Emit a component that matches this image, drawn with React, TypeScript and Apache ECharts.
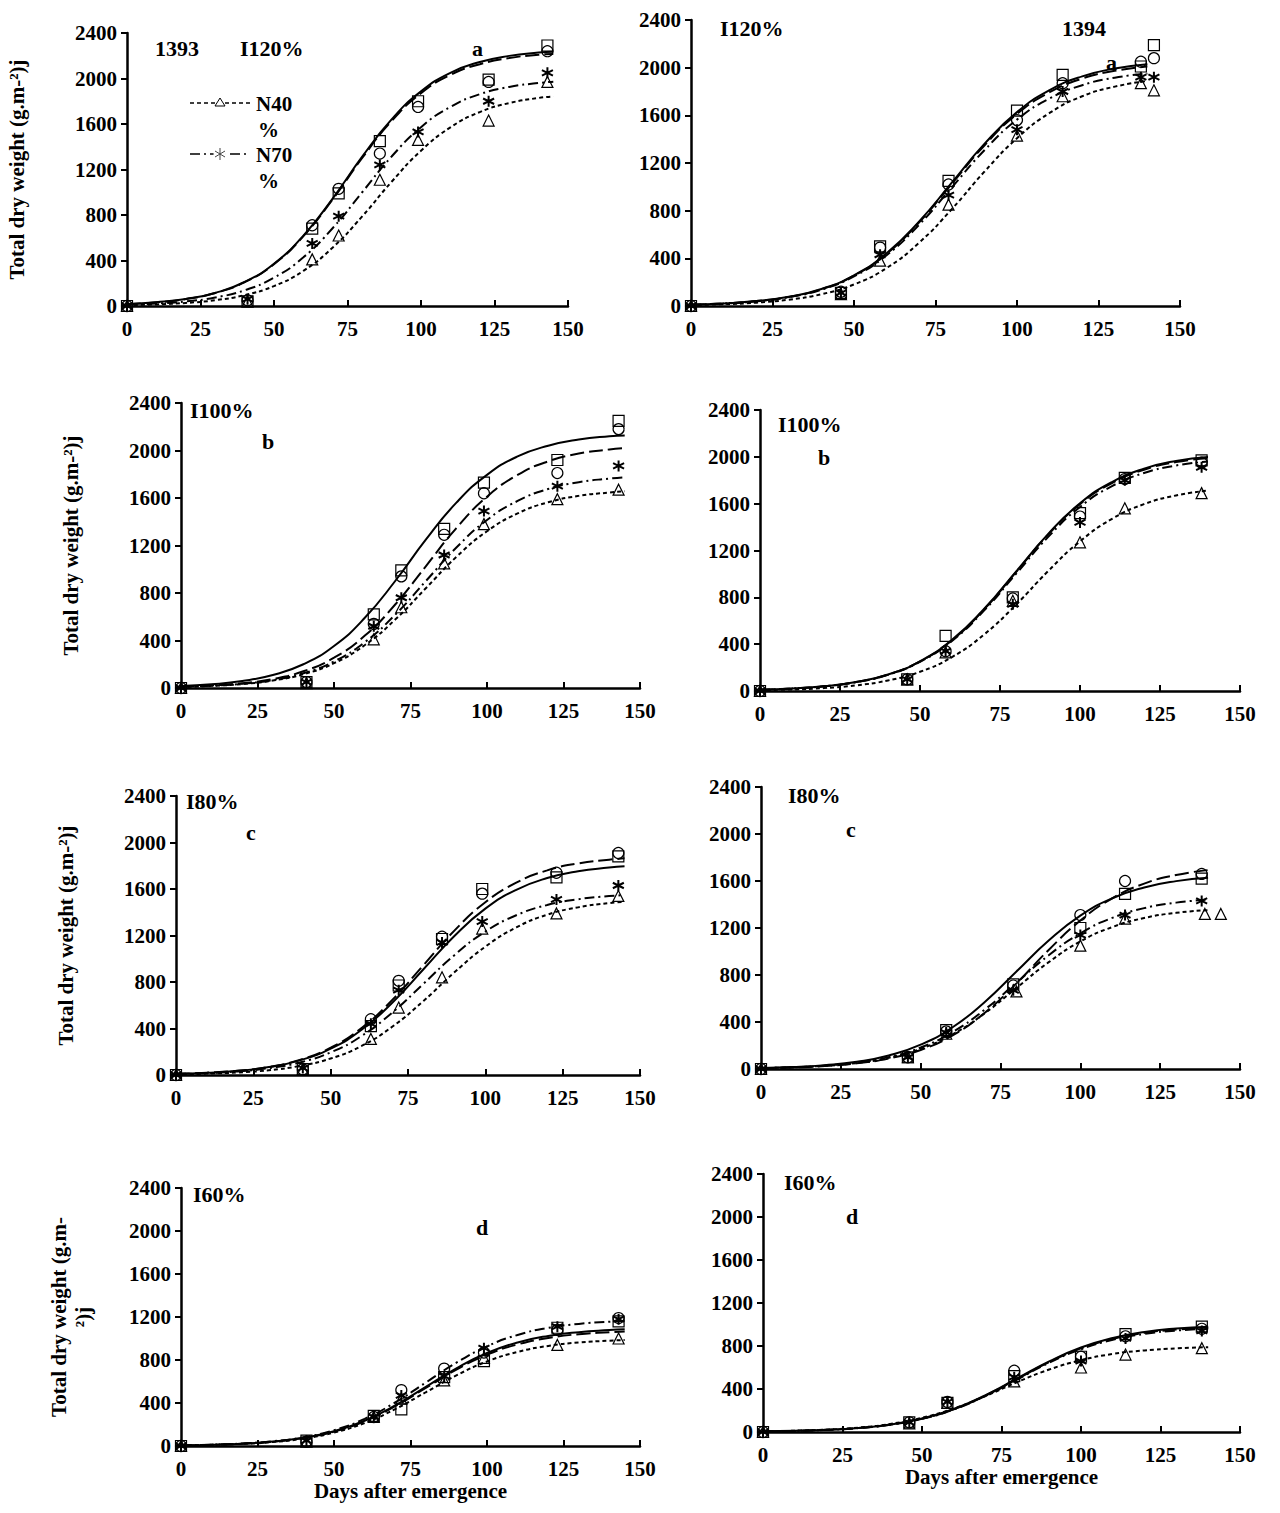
import { useEffect, useRef } from "react";
import * as echarts from "echarts";

// x positions for fitted curves
const curveDaysL = [0, 10, 20, 30, 40, 50, 60, 70, 80, 90, 100, 110, 120, 130, 140, 145];
const curveDaysR = [0, 10, 20, 30, 40, 50, 60, 70, 80, 90, 100, 110, 120, 130, 140];

// sampling days of observed points
const obsDaysL = [0, 41, 63, 72, 86, 99, 123, 143];
const obsDaysR = [0, 46, 58, 79, 100, 114, 138, 142];
const obsDaysR7 = [0, 46, 58, 79, 100, 114, 138];

// panel a (I120%) 1393
const aL_tri = [0, 40, 410, 620, 1110, 1460, 1630, 1970];
const aL_ast = [0, 60, 550, 790, 1240, 1530, 1800, 2050];
const aL_cir = [0, 50, 710, 1030, 1340, 1750, 1970, 2240];
const aL_sq = [0, 40, 680, 990, 1450, 1800, 1990, 2290];
const aL_c40 = [8, 14, 27, 51, 96, 175, 309, 515, 788, 1092, 1365, 1570, 1705, 1784, 1829, 1842];
const aL_c70 = [11, 21, 40, 75, 138, 249, 428, 686, 1000, 1314, 1572, 1750, 1862, 1926, 1960, 1972];
const aL_c100 = [17, 32, 61, 114, 209, 368, 614, 939, 1301, 1626, 1870, 2032, 2126, 2180, 2209, 2216];
const aL_c130 = [17, 33, 62, 115, 211, 372, 619, 947, 1313, 1641, 1887, 2050, 2145, 2199, 2228, 2236];

// panel a (I120%) 1394
const aR_tri = [0, 100, 380, 850, 1430, 1760, 1870, 1810];
const aR_ast = [0, 110, 430, 930, 1480, 1800, 1920, 1920];
const aR_cir = [0, 120, 490, 1020, 1560, 1870, 2050, 2080];
const aR_sq = [0, 110, 500, 1050, 1640, 1940, 2010, 2190];
const aR_c40 = [8, 15, 28, 53, 99, 181, 319, 532, 813, 1127, 1408, 1620, 1760, 1841, 1888];
const aR_c70 = [11, 21, 39, 74, 137, 248, 426, 683, 995, 1307, 1564, 1741, 1853, 1916, 1950];
const aR_c100 = [11, 22, 41, 76, 141, 255, 439, 703, 1025, 1347, 1611, 1794, 1909, 1974, 2009];
const aR_c130 = [11, 22, 41, 77, 143, 258, 443, 710, 1035, 1360, 1627, 1811, 1927, 1993, 2029];

// panel b (I100%) 1393
const bL_tri = [0, 40, 410, 680, 1050, 1380, 1590, 1670];
const bL_ast = [0, 50, 520, 760, 1120, 1490, 1700, 1870];
const bL_cir = [0, 50, 540, 940, 1290, 1640, 1810, 2180];
const bL_sq = [0, 50, 620, 990, 1340, 1730, 1920, 2250];
const bL_c40 = [9, 18, 33, 63, 116, 209, 360, 576, 840, 1104, 1320, 1470, 1564, 1618, 1646, 1656];
const bL_c70 = [10, 19, 36, 67, 124, 224, 385, 617, 900, 1183, 1415, 1575, 1676, 1733, 1764, 1775];
const bL_c100 = [11, 22, 41, 76, 141, 255, 439, 703, 1025, 1347, 1611, 1794, 1909, 1974, 2009, 2021];
const bL_c130 = [16, 31, 59, 110, 200, 354, 589, 901, 1249, 1561, 1795, 1950, 2040, 2092, 2120, 2127];

// panel b (I100%) 1394
const bR_tri = [0, 100, 330, 770, 1270, 1560, 1690];
const bR_ast = [0, 100, 340, 740, 1440, 1800, 1910];
const bR_cir = [0, 100, 340, 790, 1490, 1810, 1950];
const bR_sq = [0, 100, 470, 800, 1520, 1820, 1970];
const bR_c40 = [7, 13, 25, 48, 90, 164, 290, 482, 737, 1023, 1278, 1470, 1596, 1670, 1712];
const bR_c70 = [11, 21, 40, 75, 138, 249, 428, 686, 1000, 1314, 1572, 1750, 1862, 1926, 1960];
const bR_c100 = [11, 21, 40, 76, 140, 253, 434, 696, 1015, 1334, 1596, 1776, 1890, 1955, 1989];
const bR_c130 = [11, 21, 40, 76, 141, 254, 437, 700, 1020, 1340, 1603, 1785, 1899, 1965, 1999];

// panel c (I80%) 1393
const cL_tri = [0, 50, 310, 580, 840, 1260, 1390, 1540];
const cL_ast = [0, 60, 440, 730, 1140, 1320, 1510, 1630];
const cL_cir = [0, 50, 480, 810, 1190, 1560, 1740, 1910];
const cL_sq = [0, 50, 420, 770, 1170, 1600, 1700, 1880];
const cL_c40 = [6, 12, 22, 41, 78, 142, 250, 417, 637, 883, 1104, 1269, 1379, 1442, 1479, 1490];
const cL_c70 = [9, 16, 31, 59, 108, 195, 336, 539, 785, 1031, 1234, 1374, 1462, 1512, 1539, 1548];
const cL_c100 = [10, 20, 37, 70, 130, 235, 404, 648, 945, 1242, 1486, 1654, 1760, 1820, 1852, 1864];
const cL_c130 = [10, 19, 36, 68, 126, 227, 389, 624, 910, 1196, 1431, 1593, 1694, 1753, 1784, 1795];

// panel c (I80%) 1394
const cR_triDays = [0, 46, 58, 80, 100, 114, 139, 144];
const cR_tri = [0, 100, 300, 660, 1050, 1280, 1320, 1320];
const cR_ast = [0, 100, 310, 670, 1140, 1310, 1430];
const cR_cir = [0, 100, 320, 710, 1310, 1600, 1660];
const cR_sq = [0, 100, 330, 720, 1200, 1490, 1620];
const cR_c40 = [8, 14, 27, 51, 95, 172, 295, 473, 690, 907, 1085, 1208, 1285, 1329, 1352, 1361];
const cR_c70 = [8, 15, 29, 55, 101, 183, 315, 504, 735, 966, 1155, 1286, 1369, 1416, 1441];
const cR_c100 = [7, 13, 25, 48, 89, 162, 286, 477, 729, 1011, 1263, 1453, 1578, 1651, 1693, 1705];
const cR_c130 = [9, 17, 33, 62, 115, 207, 355, 569, 830, 1091, 1305, 1453, 1545, 1599, 1627];

// panel d (I60%) 1393
const dL_tri = [0, 40, 270, 440, 610, 820, 940, 1000];
const dL_ast = [0, 50, 270, 470, 650, 910, 1110, 1180];
const dL_cir = [0, 40, 270, 520, 720, 870, 1080, 1190];
const dL_sq = [0, 50, 280, 340, 640, 790, 1100, 1160];
const dL_c40 = [6, 11, 20, 37, 69, 125, 214, 343, 500, 657, 786, 875, 931, 963, 980, 986];
const dL_c70 = [6, 12, 23, 44, 81, 147, 253, 405, 590, 775, 927, 1033, 1099, 1136, 1156, 1164];
const dL_c100 = [6, 11, 21, 40, 75, 134, 231, 370, 540, 710, 849, 945, 1005, 1040, 1058, 1065];
const dL_c130 = [6, 12, 22, 41, 76, 137, 235, 377, 550, 723, 865, 963, 1024, 1059, 1078, 1085];

// panel d (I60%) 1394
const dR_tri = [0, 80, 270, 470, 600, 720, 780];
const dR_ast = [0, 90, 280, 510, 660, 870, 940];
const dR_cir = [0, 90, 280, 570, 700, 890, 960];
const dR_sq = [0, 90, 270, 520, 700, 910, 980];
const dR_c40 = [6, 12, 22, 41, 75, 132, 219, 335, 465, 581, 668, 726, 759, 778, 789];
const dR_c70 = [5, 10, 19, 37, 68, 122, 210, 336, 490, 644, 770, 858, 912, 944, 960];
const dR_c100 = [5, 10, 20, 37, 68, 123, 212, 340, 495, 650, 778, 866, 922, 953, 970];
const dR_c130 = [6, 11, 20, 37, 69, 125, 214, 343, 500, 657, 786, 875, 931, 963, 980];

const FONT = "Liberation Serif";
const ASTERISK = "path://M0,-5L0,5M-4.3,-2.5L4.3,2.5M-4.3,2.5L4.3,-2.5";

type Panel = {
  grid: { left: number; top: number; width: number; height: number };
  obsDays: number[][];
  obs: number[][];
  cDays: number[];
  curves: number[][];
  yName?: string;
  xName?: string;
};

const panels: Panel[] = [
  { grid: { left: 127, top: 33, width: 441, height: 273 }, obsDays: [obsDaysL, obsDaysL, obsDaysL, obsDaysL],
    obs: [aL_tri, aL_ast, aL_cir, aL_sq], cDays: curveDaysL, curves: [aL_c40, aL_c70, aL_c100, aL_c130],
    yName: "Total dry weight (g.m-²)j" },
  { grid: { left: 691, top: 20, width: 489, height: 286 }, obsDays: [obsDaysR, obsDaysR, obsDaysR, obsDaysR],
    obs: [aR_tri, aR_ast, aR_cir, aR_sq], cDays: curveDaysR, curves: [aR_c40, aR_c70, aR_c100, aR_c130] },
  { grid: { left: 181, top: 403, width: 459, height: 285 }, obsDays: [obsDaysL, obsDaysL, obsDaysL, obsDaysL],
    obs: [bL_tri, bL_ast, bL_cir, bL_sq], cDays: curveDaysL, curves: [bL_c40, bL_c70, bL_c100, bL_c130],
    yName: "Total dry weight (g.m-²)j" },
  { grid: { left: 760, top: 410, width: 480, height: 281 }, obsDays: [obsDaysR7, obsDaysR7, obsDaysR7, obsDaysR7],
    obs: [bR_tri, bR_ast, bR_cir, bR_sq], cDays: curveDaysR, curves: [bR_c40, bR_c70, bR_c100, bR_c130] },
  { grid: { left: 176, top: 796, width: 464, height: 279 }, obsDays: [obsDaysL, obsDaysL, obsDaysL, obsDaysL],
    obs: [cL_tri, cL_ast, cL_cir, cL_sq], cDays: curveDaysL, curves: [cL_c40, cL_c70, cL_c100, cL_c130],
    yName: "Total dry weight (g.m-²)j" },
  { grid: { left: 761, top: 787, width: 479, height: 282 },
    obsDays: [cR_triDays, obsDaysR7, obsDaysR7, obsDaysR7],
    obs: [cR_tri, cR_ast, cR_cir, cR_sq], cDays: curveDaysR, curves: [cR_c40, cR_c70, cR_c100, cR_c130] },
  { grid: { left: 181, top: 1188, width: 459, height: 258 }, obsDays: [obsDaysL, obsDaysL, obsDaysL, obsDaysL],
    obs: [dL_tri, dL_ast, dL_cir, dL_sq], cDays: curveDaysL, curves: [dL_c40, dL_c70, dL_c100, dL_c130],
    yName: "Total dry weight (g.m-\n²)j", xName: "Days after emergence" },
  { grid: { left: 763, top: 1174, width: 477, height: 258 }, obsDays: [obsDaysR7, obsDaysR7, obsDaysR7, obsDaysR7],
    obs: [dR_tri, dR_ast, dR_cir, dR_sq], cDays: curveDaysR, curves: [dR_c40, dR_c70, dR_c100, dR_c130],
    xName: "Days after emergence" },
];

const symbols = ["triangle", ASTERISK, "circle", "rect"];
const lineTypes: any[] = [[4, 3], [10, 4, 2, 4], [14, 5], "solid"];

const labels: [string, number, number][] = [
  ["1393", 155, 48], ["I120%", 240, 48], ["a", 472, 48],
  ["I120%", 720, 28], ["1394", 1062, 28], ["a", 1106, 62],
  ["I100%", 190, 410], ["b", 262, 441],
  ["I100%", 778, 424], ["b", 818, 457],
  ["I80%", 186, 801], ["c", 246, 832],
  ["I80%", 788, 795], ["c", 846, 829],
  ["I60%", 193, 1194], ["d", 476, 1227],
  ["I60%", 784, 1182], ["d", 846, 1216],
];

export default function App() {
  const ref = useRef<HTMLDivElement>(null);
  useEffect(() => {
    if (!ref.current) return;
    const chart = echarts.init(ref.current, null, { renderer: "svg" });
    const textStyle = { fontFamily: FONT, fontWeight: "bold" as const, fontSize: 21, color: "#000" };
    const axisLine = { lineStyle: { color: "#000", width: 2.5 } };
    const series: any[] = [];
    panels.forEach((p, i) => {
      p.curves.forEach((c, k) => {
        series.push({
          type: "line", xAxisIndex: i, yAxisIndex: i, smooth: true, symbol: "none",
          data: c.map((v, j) => [p.cDays[j], v]),
          lineStyle: { color: "#000", width: 2, type: lineTypes[k] }, z: 2,
        });
      });
      p.obs.forEach((o, k) => {
        series.push({
          type: "scatter", xAxisIndex: i, yAxisIndex: i, symbol: symbols[k],
          symbolSize: 11,
          data: o.map((v, j) => [p.obsDays[k][j], v]),
          itemStyle: { color: k === 1 ? "#000" : "rgba(255,255,255,0)", borderColor: "#000", borderWidth: k === 1 ? 2 : 1.2, opacity: 1 },
          z: 3,
        });
      });
    });
    const graphic: any[] = labels.map(([t, x, y]) => ({
      type: "text", left: x, top: y - 11, style: { text: t, font: `bold 22px '${FONT}'`, fill: "#000" },
    }));
    graphic.push(
      { type: "line", shape: { x1: 190, y1: 103, x2: 250, y2: 103 }, style: { stroke: "#000", lineWidth: 1.5, lineDash: [4, 3] } },
      { type: "polygon", shape: { points: [[220, 98], [215, 106], [225, 106]] }, style: { fill: "#fff", stroke: "#000", lineWidth: 1 } },
      { type: "text", left: 256, top: 93, style: { text: "N40", font: `bold 21px '${FONT}'`, fill: "#000" } },
      { type: "text", left: 258, top: 119, style: { text: "%", font: `bold 21px '${FONT}'`, fill: "#000" } },
      { type: "line", shape: { x1: 190, y1: 154, x2: 250, y2: 154 }, style: { stroke: "#000", lineWidth: 1.5, lineDash: [10, 4, 2, 4] } },
      { type: "circle", shape: { cx: 220, cy: 154, r: 6 }, style: { fill: "#fff", stroke: "#fff" } },
      { type: "line", shape: { x1: 220, y1: 148, x2: 220, y2: 160 }, style: { stroke: "#444", lineWidth: 1 } },
      { type: "line", shape: { x1: 215, y1: 151, x2: 225, y2: 157 }, style: { stroke: "#444", lineWidth: 1 } },
      { type: "line", shape: { x1: 215, y1: 157, x2: 225, y2: 151 }, style: { stroke: "#444", lineWidth: 1 } },
      { type: "text", left: 256, top: 144, style: { text: "N70", font: `bold 21px '${FONT}'`, fill: "#000" } },
      { type: "text", left: 258, top: 170, style: { text: "%", font: `bold 21px '${FONT}'`, fill: "#000" } },
    );
    chart.setOption({
      animation: false,
      backgroundColor: "#fff",
      grid: panels.map(p => p.grid),
      xAxis: panels.map((p, i) => ({
        type: "value", gridIndex: i, min: 0, max: 150, interval: 25,
        axisLine, axisTick: { inside: true, length: 6, lineStyle: { color: "#000", width: 2 } },
        axisLabel: { ...textStyle, margin: 12 }, splitLine: { show: false },
        name: p.xName, nameLocation: "middle", nameGap: 34, nameTextStyle: { ...textStyle, fontSize: 21 },
      })),
      yAxis: panels.map((p, i) => ({
        type: "value", gridIndex: i, min: 0, max: 2400, interval: 400,
        axisLine, axisTick: { length: 6, lineStyle: { color: "#000", width: 2 } },
        axisLabel: { ...textStyle, margin: 10, formatter: (v: number) => String(v) }, splitLine: { show: false },
        name: p.yName, nameLocation: "middle", nameGap: p.xName ? 86 : 98,
        nameTextStyle: { ...textStyle, fontSize: 21, lineHeight: 24 },
      })),
      series,
      graphic,
    });
    return () => chart.dispose();
  }, []);
  return <div ref={ref} style={{ position: "absolute", left: 0, top: 0, width: 1280, height: 1513 }} />;
}
